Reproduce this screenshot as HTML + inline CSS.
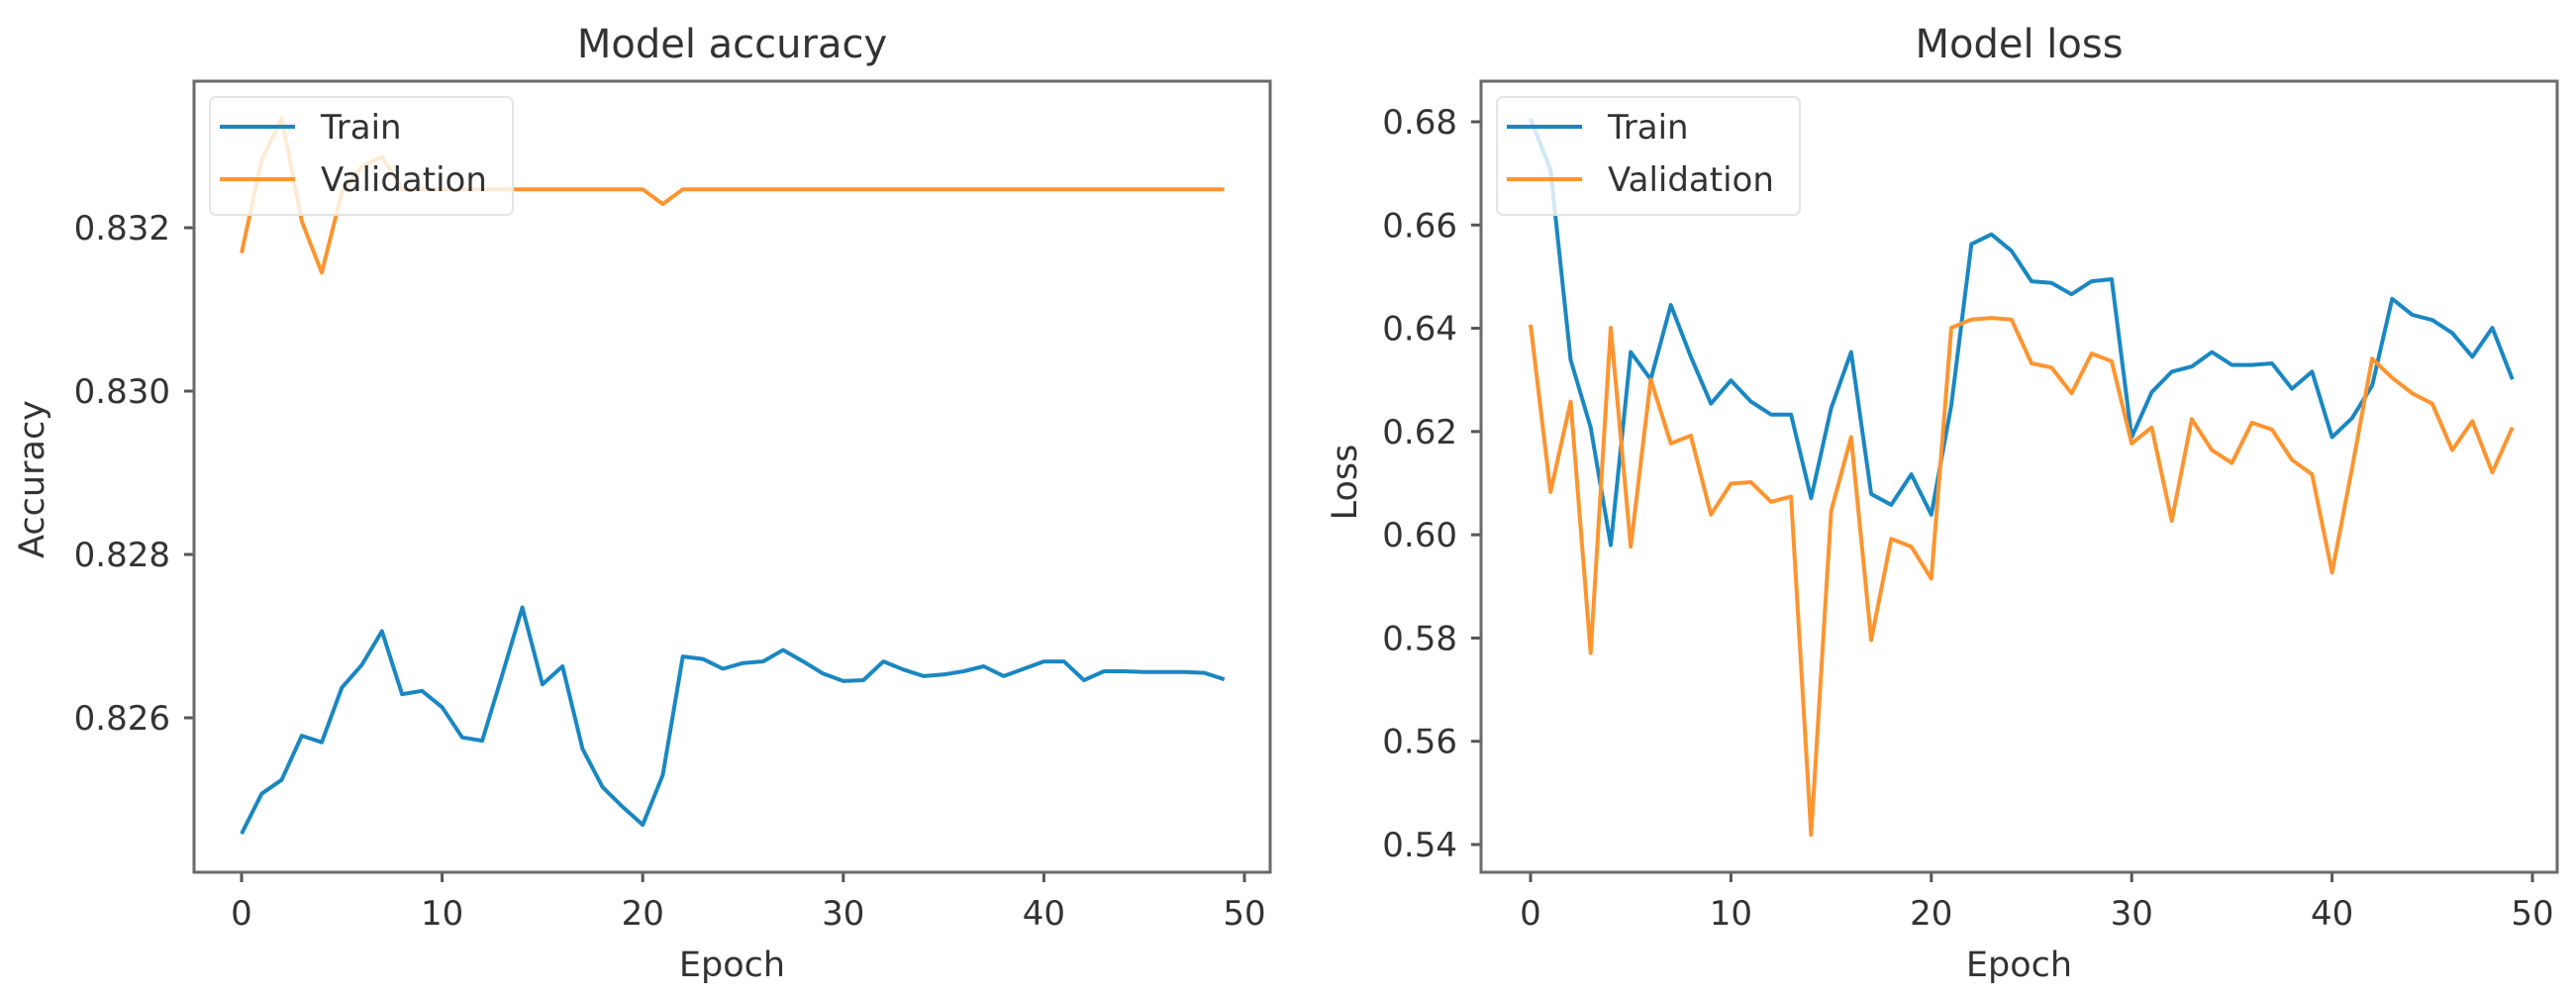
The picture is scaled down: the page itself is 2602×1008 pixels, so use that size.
<!DOCTYPE html>
<html><head><meta charset="utf-8"><style>
html,body{margin:0;padding:0;background:#fff;}
svg{display:block;}
text{font-family:"DejaVu Sans","Liberation Sans",sans-serif;fill:#333;}
</style></head><body>
<svg id="chart" width="2602" height="1008" viewBox="0 0 2602 1008" xmlns="http://www.w3.org/2000/svg"></svg>
<script>
const epochs = Array.from({length:50},(_,i)=>i);
const accTrain = [0.82458,0.82507,0.82524,0.82578,0.8257,0.82637,0.82665,0.82706,0.82629,0.82633,0.82613,0.82576,0.82572,0.82653,0.82735,0.82641,0.82663,0.82562,0.82515,0.82491,0.82469,0.8253,0.82675,0.82672,0.8266,0.82667,0.82669,0.82683,0.82669,0.82654,0.82645,0.82646,0.82669,0.82659,0.82651,0.82653,0.82657,0.82663,0.82651,0.8266,0.82669,0.82669,0.82646,0.82657,0.82657,0.82656,0.82656,0.82656,0.82655,0.82647];
const accVal = [0.83169,0.83283,0.83334,0.83208,0.83145,0.83243,0.83275,0.83287,0.83247,0.83247,0.83247,0.83247,0.83247,0.83247,0.83247,0.83247,0.83247,0.83247,0.83247,0.83247,0.83247,0.83229,0.83247,0.83247,0.83247,0.83247,0.83247,0.83247,0.83247,0.83247,0.83247,0.83247,0.83247,0.83247,0.83247,0.83247,0.83247,0.83247,0.83247,0.83247,0.83247,0.83247,0.83247,0.83247,0.83247,0.83247,0.83247,0.83247,0.83247,0.83247];
const lossTrain = [0.6806,0.6707,0.6339,0.6208,0.598,0.6354,0.6301,0.6445,0.6345,0.6254,0.6299,0.6258,0.6233,0.6233,0.6071,0.6245,0.6354,0.6079,0.6058,0.6117,0.6039,0.6251,0.6563,0.6582,0.655,0.6491,0.6488,0.6466,0.6491,0.6495,0.6189,0.6276,0.6316,0.6326,0.6354,0.6329,0.6329,0.6332,0.6283,0.6316,0.6189,0.6226,0.6289,0.6457,0.6426,0.6416,0.6391,0.6345,0.6401,0.6301];
const lossVal = [0.6407,0.6083,0.6258,0.5771,0.6401,0.5977,0.6301,0.6177,0.6192,0.6039,0.6099,0.6102,0.6064,0.6074,0.5419,0.6046,0.6189,0.5796,0.5992,0.5977,0.5915,0.6401,0.6417,0.642,0.6417,0.6332,0.6324,0.6274,0.6351,0.6336,0.6177,0.6208,0.6027,0.6224,0.6164,0.6139,0.6217,0.6204,0.6145,0.6117,0.5927,0.6129,0.6341,0.6304,0.6274,0.6254,0.6164,0.622,0.6121,0.6208];
const xTicks = [0,10,20,30,40,50];
const accTicks = [0.826,0.828,0.830,0.832];
const accTickLabels = ["0.826","0.828","0.830","0.832"];
const lossTicks = [0.54,0.56,0.58,0.60,0.62,0.64,0.66,0.68];
const lossTickLabels = ["0.54","0.56","0.58","0.60","0.62","0.64","0.66","0.68"];

const NS="http://www.w3.org/2000/svg";
const svg=document.getElementById('chart');
function mk(tag,attrs,parent){const e=document.createElementNS(NS,tag);for(const k in attrs)e.setAttribute(k,attrs[k]);(parent||svg).appendChild(e);return e;}

function panel(cfg){
  const g=mk('g',{});
  
  
  const xs=v=>cfg.x0+(v-0)*(cfg.x50-cfg.x0)/50;
  const ys=v=>cfg.ya+(v-cfg.va)*(cfg.yb-cfg.ya)/(cfg.vb-cfg.va);
  // ticks
  xTicks.forEach(t=>{
    const l=mk('line',{x1:xs(t),x2:xs(t),y1:cfg.bottom,y2:cfg.bottom+10,stroke:'#555','stroke-width':3},g);
    
    
    const tx=mk('text',{x:xs(t),y:cfg.bottom+53,'text-anchor':'middle','font-size':34},g);
    
    
    tx.textContent=t;
  });
  cfg.ticks.forEach((t,i)=>{
    const l=mk('line',{x1:cfg.left-10,x2:cfg.left,y1:ys(t),y2:ys(t),stroke:'#555','stroke-width':3},g);
    
    
    const tx=mk('text',{x:cfg.left-24,y:ys(t)+12,'text-anchor':'end','font-size':34},g);
    
    
    tx.textContent=cfg.tickLabels[i];
  });
  // series
  [[cfg.train,'#1a87c2','train-line'],[cfg.val,'#ff9430','validation-line']].forEach(([arr,col,nm])=>{
    const d=arr.map((v,i)=>(i?'L':'M')+xs(epochs[i]).toFixed(1)+','+ys(v).toFixed(1)).join('');
    const p=mk('path',{d:d,fill:'none',stroke:col,'stroke-width':4,'stroke-linejoin':'round'},g);
    
    
  });
  // frame
  const f=mk('rect',{x:cfg.left,y:cfg.top,width:cfg.right-cfg.left,height:cfg.bottom-cfg.top,fill:'none',stroke:'#6a6a6a','stroke-width':3},g);
  
  
  // legend
  const lg=mk('g',{},g);
  
  
  mk('rect',{x:cfg.left+16,y:98,width:306,height:119,rx:6,fill:'rgba(255,255,255,0.8)',stroke:'#e4e4e4','stroke-width':2},lg);
  const e1=mk('line',{x1:cfg.left+26,x2:cfg.left+102,y1:128,y2:128,stroke:'#1a87c2','stroke-width':4},lg);
  
  
  const t1=mk('text',{x:cfg.left+128,y:140,'font-size':34},lg);
  
  
  t1.textContent='Train';
  const e2=mk('line',{x1:cfg.left+26,x2:cfg.left+102,y1:181,y2:181,stroke:'#ff9430','stroke-width':4},lg);
  
  
  const t2=mk('text',{x:cfg.left+128,y:193,'font-size':34},lg);
  
  
  t2.textContent='Validation';
  // title & labels
  const ti=mk('text',{x:(cfg.left+cfg.right)/2,y:58,'text-anchor':'middle','font-size':40},g);
  
  
  ti.textContent=cfg.title;
  const xl=mk('text',{x:(cfg.left+cfg.right)/2,y:986,'text-anchor':'middle','font-size':35},g);
  
  
  xl.textContent='Epoch';
  const yl=mk('text',{x:0,y:0,'text-anchor':'middle','font-size':35,transform:`translate(${cfg.ylx},${cfg.yly}) rotate(-90)`},g);
  
  
  yl.textContent=cfg.ylabel;
}
panel({name:'accuracy-chart',title:'Model accuracy',ylabel:'Accuracy',left:196,right:1283,top:82,bottom:881,x0:244,x50:1257,
  ya:230,va:0.832,yb:725,vb:0.826,ticks:accTicks,tickLabels:accTickLabels,train:accTrain,val:accVal,ylx:44,yly:484});
panel({name:'loss-chart',title:'Model loss',ylabel:'Loss',left:1496,right:2583,top:82,bottom:881,x0:1546,x50:2558,
  ya:123,va:0.68,yb:853,vb:0.54,ticks:lossTicks,tickLabels:lossTickLabels,train:lossTrain,val:lossVal,ylx:1370,yly:487});
</script>
</body></html>
